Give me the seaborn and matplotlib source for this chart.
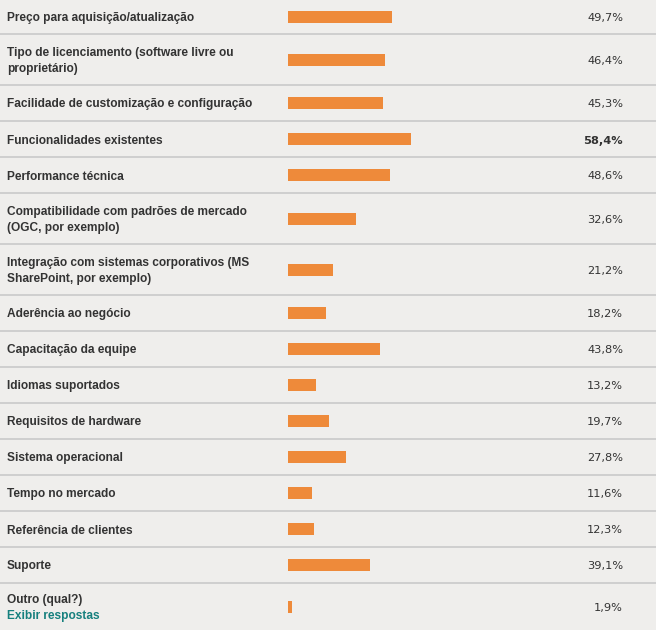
import numpy as np
import pandas as pd
import matplotlib
matplotlib.use('Agg')
import matplotlib.pyplot as plt
import seaborn as sns

# data
labels = [
    "Preço para aquisição/atualização",
    "Tipo de licenciamento (software livre ou\nproprietário)",
    "Facilidade de customização e configuração",
    "Funcionalidades existentes",
    "Performance técnica",
    "Compatibilidade com padrões de mercado\n(OGC, por exemplo)",
    "Integração com sistemas corporativos (MS\nSharePoint, por exemplo)",
    "Aderência ao negócio",
    "Capacitação da equipe",
    "Idiomas suportados",
    "Requisitos de hardware",
    "Sistema operacional",
    "Tempo no mercado",
    "Referência de clientes",
    "Suporte",
    "Outro (qual?)\nExibir respostas",
]
values = [49.7, 46.4, 45.3, 58.4, 48.6, 32.6, 21.2, 18.2, 43.8, 13.2, 19.7, 27.8, 11.6, 12.3, 39.1, 1.9]
pct_labels = ["49,7%", "46,4%", "45,3%", "58,4%", "48,6%", "32,6%", "21,2%", "18,2%",
              "43,8%", "13,2%", "19,7%", "27,8%", "11,6%", "12,3%", "39,1%", "1,9%"]
link_text = "Exibir respostas"

# layout in pixels
W, H = 656, 630
row_h = [34, 51, 36, 36, 36, 51, 51, 36, 36, 36, 36, 36, 36, 36, 36, 47]
bounds = np.concatenate([[0], np.cumsum(row_h)])
centers = (bounds[:-1] + bounds[1:]) / 2
bg = '#efeeec'
txt = '#333333'
link_col = '#16807e'
label_font = ['Liberation Sans', 'DejaVu Sans']

sns.set_theme(style='white')
plt.rcParams['font.family'] = ['DejaVu Sans']

fig = plt.figure(figsize=(W / 100, H / 100), dpi=100, facecolor=bg)
ax = fig.add_axes([0, 0, 1, 1])
ax.set_xlim(0, W)
ax.set_ylim(H, 0)
ax.set_facecolor(bg)
ax.axis('off')

# row separators
for b in bounds[1:-1]:
    ax.axhline(b, color='#cfcfcf', lw=1.4)

best = int(np.argmax(values))
for i, (lab, pct) in enumerate(zip(labels, pct_labels)):
    lines = lab.split('\n')
    n = len(lines)
    for k, line in enumerate(lines):
        yb = centers[i] + 4.5 + (k - (n - 1) / 2) * 16
        ax.text(7, yb, line, ha='left', va='baseline', fontsize=8.6, fontweight='bold',
                color=link_col if line == link_text else txt, family=label_font)
    ax.text(623, centers[i] + 4.5, pct, ha='right', va='baseline', fontsize=8.2,
            fontweight='bold' if i == best else 'normal', color=txt)

# bar area: 0-100% spans 288..498 px
bx = fig.add_axes([288 / W, 0, 210 / W, 1])
bx.patch.set_alpha(0)
df = pd.DataFrame({'value': values, 'pos': centers})
sns.barplot(data=df, x='value', y='pos', orient='h', native_scale=True,
            color='#ee8a3a', saturation=1, width=12 / 36, linewidth=0, ax=bx)
bx.set_xlim(0, 100)
bx.set_ylim(H, 0)
bx.axis('off')

fig.savefig('out.png', dpi=100, facecolor=bg)
